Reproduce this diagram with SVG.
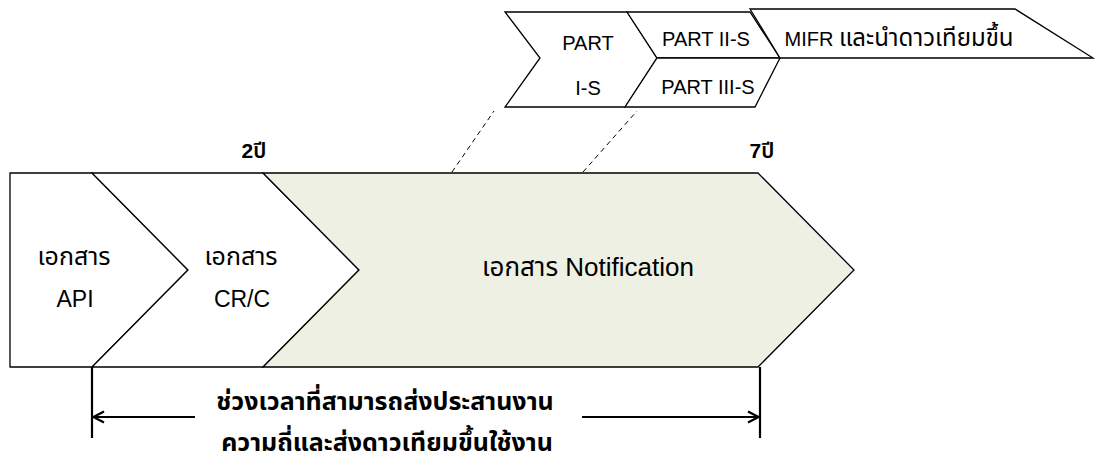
<svg xmlns="http://www.w3.org/2000/svg" width="1099" height="457" viewBox="0 0 1099 457">
<style>
.sh{fill:#fff;stroke:#000;stroke-width:1.3;stroke-linejoin:miter}
.gr{fill:#EDF0E3}
.t{font-family:"Liberation Sans","Noto Sans Thai",sans-serif;fill:#000;text-anchor:middle}
.s{font-size:20px}
.m{font-size:23px}
.th{font-size:25px}
.y{font-family:"Liberation Sans","Noto Sans Thai",sans-serif;font-size:21px;font-weight:600;fill:#000;text-anchor:middle}
.b{font-family:"Liberation Sans","Noto Sans Thai",sans-serif;font-size:25px;font-weight:bold;fill:#000;text-anchor:middle}
.dash{stroke:#000;stroke-width:1;stroke-dasharray:5,4;fill:none}
.dim{stroke:#000;stroke-width:2.2;fill:none}
</style>
<defs>
<marker id="ah" viewBox="0 0 14 14" refX="13" refY="7" markerWidth="14" markerHeight="14" markerUnits="userSpaceOnUse" orient="auto-start-reverse">
<polyline points="2,1.5 12.5,7 2,12.5" fill="none" stroke="#000" stroke-width="2.2"/>
</marker>
</defs>
<g id="node-api">
<polygon class="sh" points="10,173 92,173 188,270 92,367 10,367"/>
<text class="t th" x="74" y="265">เอกสาร</text>
<text class="t m" x="75" y="307">API</text>
</g>
<g id="node-crc">
<polygon class="sh" points="92,173 263,173 359,270 263,367 92,367 188,270"/>
<text class="t th" x="241" y="265">เอกสาร</text>
<text class="t m" x="242" y="307">CR/C</text>
</g>
<g id="node-notification">
<polygon class="sh gr" points="263,173 758,173 854,270 758,367 263,367 359,270"/>
<text class="t" style="font-size:26px" x="588" y="276">เอกสาร Notification</text>
</g>
<g id="label-2y"><text class="y" x="254" y="158">2ปี</text></g>
<g id="label-7y"><text class="y" x="762" y="158">7ปี</text></g>
<g id="node-part1">
<polygon class="sh" points="505,12 627,12 657,58 625,107 505,107 540,58"/>
<text class="t s" x="588" y="50">PART</text>
<text class="t s" x="588" y="95">I-S</text>
</g>
<g id="node-part2">
<polygon class="sh" points="627,12 750,12 780,58 657,58"/>
<text class="t s" x="706" y="46">PART II-S</text>
</g>
<g id="node-part3">
<polygon class="sh" points="657,58 780,58 755,107 625,107"/>
<text class="t s" x="708" y="94">PART III-S</text>
</g>
<g id="node-mifr">
<polygon class="sh" points="750,9 1015,9 1093,58 780,58"/>
<text class="t s" x="899" y="46">MIFR <tspan style="font-size:24px">และนำดาวเทียมขึ้น</tspan></text>
</g>
<g id="connectors">
<line class="dash" x1="452" y1="172" x2="494" y2="111"/>
<line class="dash" x1="583" y1="172" x2="637" y2="111"/>
<line class="dim" x1="92" y1="367" x2="92" y2="438"/>
<line class="dim" x1="760" y1="367" x2="760" y2="438"/>
<line class="dim" x1="195" y1="417" x2="93" y2="417" marker-end="url(#ah)"/>
<line class="dim" x1="582" y1="417" x2="759" y2="417" marker-end="url(#ah)"/>
</g>
<g id="label-dim">
<text class="b" x="385" y="410">ช่วงเวลาที่สามารถส่งประสานงาน</text>
<text class="b" x="387" y="451">ความถี่และส่งดาวเทียมขึ้นใช้งาน</text>
</g>
</svg>
